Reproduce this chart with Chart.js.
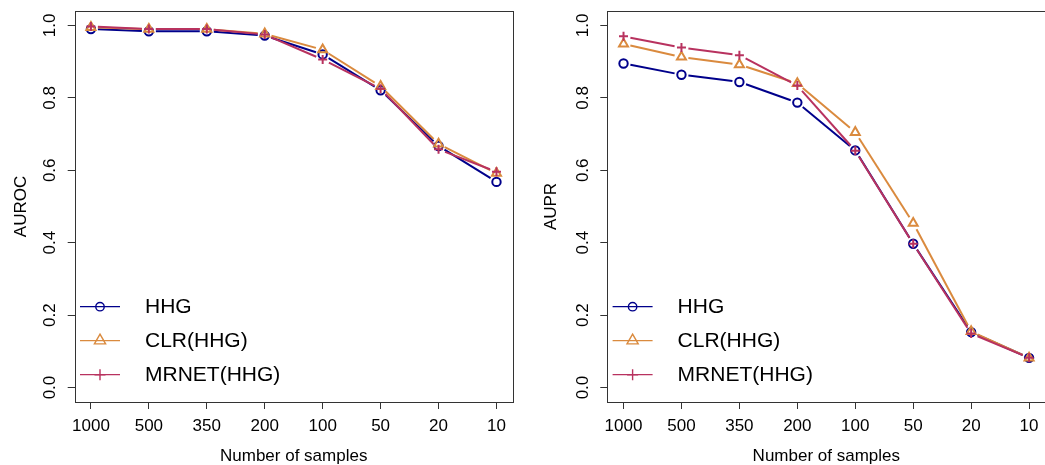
<!DOCTYPE html>
<html>
<head>
<meta charset="utf-8">
<script src="https://cdn.jsdelivr.net/npm/chart.js@4/dist/chart.umd.min.js"></script>
<style>
  html, body { margin: 0; padding: 0; background: #fff; }
  body { width: 1045px; height: 465px; position: relative; overflow: hidden; }
  .panel { position: absolute; top: 0; }
</style>
</head>
<body>
<div class="panel" style="left:0px"><canvas id="auroc" width="525" height="465"></canvas></div>
<div class="panel" style="left:530px"><canvas id="aupr" width="526" height="465"></canvas></div>
<script>
// Sample sizes along the x axis (plotted left to right, largest first)
const sampleSizes = ['1000', '500', '350', '200', '100', '50', '20', '10'];
const yTicks = [0, 0.2, 0.4, 0.6, 0.8, 1.0];
const seriesNames = ['HHG', 'CLR(HHG)', 'MRNET(HHG)'];

// Area under the ROC curve
const aurocHHG   = [0.990, 0.984, 0.984, 0.972, 0.920, 0.821, 0.667, 0.568];
const aurocCLR   = [0.995, 0.990, 0.990, 0.977, 0.933, 0.832, 0.673, 0.592];
const aurocMRNET = [0.997, 0.990, 0.990, 0.975, 0.906, 0.825, 0.658, 0.596];

// Area under the precision-recall curve
const auprHHG   = [0.895, 0.864, 0.844, 0.787, 0.655, 0.397, 0.153, 0.082];
const auprCLR   = [0.949, 0.913, 0.892, 0.840, 0.705, 0.454, 0.155, 0.082];
const auprMRNET = [0.970, 0.939, 0.918, 0.834, 0.654, 0.397, 0.149, 0.082];

const COLORS = ['#00008B', '#DA8A3E', '#B8325F'];
const SHAPES = ['circle', 'triangle', 'cross'];
const RADII  = [4.2, 5.2, 4.5];
const FONT = 'Liberation Sans, Arial, Helvetica, sans-serif';

// Lines are drawn with a small gap around each marker (like R's type = "b")
const gappedLines = {
  id: 'gappedLines',
  beforeDatasetDraw(chart, args) {
    const pts = args.meta.data;
    const ds = chart.data.datasets[args.index];
    const gap = 7;
    const ctx = chart.ctx;
    ctx.save();
    ctx.strokeStyle = ds.borderColor;
    ctx.lineWidth = 2;
    ctx.lineCap = 'butt';
    for (let i = 0; i < pts.length - 1; i++) {
      const a = pts[i], b = pts[i + 1];
      const dx = b.x - a.x, dy = b.y - a.y;
      const len = Math.hypot(dx, dy);
      if (len <= 2 * gap) continue;
      const ux = dx / len, uy = dy / len;
      ctx.beginPath();
      ctx.moveTo(a.x + ux * gap, a.y + uy * gap);
      ctx.lineTo(b.x - ux * gap, b.y - uy * gap);
      ctx.stroke();
    }
    ctx.restore();
  }
};

// Plot frame, rotated y tick labels and the inset legend
const decorations = {
  id: 'decorations',
  beforeDatasetsDraw(chart) {
    const { ctx, chartArea: ca } = chart;
    ctx.save();
    ctx.strokeStyle = '#333';
    ctx.lineWidth = 1;
    ctx.strokeRect(Math.round(ca.left) + 0.5, Math.round(ca.top) + 0.5,
                   Math.round(ca.right - ca.left), Math.round(ca.bottom - ca.top));
    // y tick labels, rotated to read upward
    const ys = chart.scales.y;
    ctx.fillStyle = '#000';
    ctx.font = '17px ' + FONT;
    ctx.textAlign = 'center';
    ctx.textBaseline = 'middle';
    yTicks.forEach(v => {
      const py = ys.getPixelForValue(v);
      ctx.save();
      ctx.translate(ca.left - 24, py);
      ctx.rotate(-Math.PI / 2);
      ctx.fillText(v.toFixed(1), 0, 0);
      ctx.restore();
    });
    ctx.restore();
  },
  afterDatasetsDraw(chart) {
    const { ctx, chartArea: ca } = chart;
    ctx.save();
    chart.data.datasets.forEach((ds, i) => {
      const y = 306.7 + 34 * i;
      const x0 = ca.left + 5.3, x1 = ca.left + 45.3, xm = (x0 + x1) / 2;
      ctx.strokeStyle = ds.borderColor;
      ctx.lineWidth = 1.2;
      ctx.beginPath();
      ctx.moveTo(x0, y); ctx.lineTo(x1, y);
      ctx.stroke();
      ctx.lineWidth = 1.4;
      ctx.beginPath();
      if (ds.pointStyle === 'circle') {
        ctx.arc(xm, y, 4.2, 0, Math.PI * 2);
      } else if (ds.pointStyle === 'triangle') {
        ctx.moveTo(xm, y - 6.5);
        ctx.lineTo(xm + 5.6, y + 3.2);
        ctx.lineTo(xm - 5.6, y + 3.2);
        ctx.closePath();
      } else {
        ctx.moveTo(xm - 5.5, y); ctx.lineTo(xm + 5.5, y);
        ctx.moveTo(xm, y - 5.5); ctx.lineTo(xm, y + 5.5);
      }
      ctx.stroke();
      ctx.fillStyle = '#000';
      ctx.font = '21px ' + FONT;
      ctx.textAlign = 'left';
      ctx.textBaseline = 'middle';
      ctx.fillText(ds.label, ca.left + 70.3, y + 1);
    });
    ctx.restore();
  }
};

function makeDatasets(values) {
  return values.map((vals, s) => ({
    label: seriesNames[s],
    data: vals.map((v, i) => ({ x: i, y: v })),
    borderColor: COLORS[s],
    backgroundColor: 'rgba(0,0,0,0)',
    pointStyle: SHAPES[s],
    pointRadius: RADII[s],
    pointBorderWidth: 2,
    pointBackgroundColor: 'rgba(0,0,0,0)',
    pointBorderColor: COLORS[s],
    showLine: false,
    order: 3 - s
  }));
}

function makeChart(id, yLabel, values, axisWidth, padRight) {
  return new Chart(document.getElementById(id), {
    type: 'line',
    data: { datasets: makeDatasets(values) },
    plugins: [gappedLines, decorations],
    options: {
      responsive: false,
      animation: false,
      devicePixelRatio: 1,
      layout: { padding: { top: 11, right: padRight, left: 0, bottom: 0 } },
      plugins: { legend: { display: false }, tooltip: { enabled: false } },
      scales: {
        x: {
          type: 'linear',
          min: -0.28, max: 7.28,
          afterBuildTicks: s => { s.ticks = sampleSizes.map((_, i) => ({ value: i })); },
          afterFit: s => { s.height = 63; },
          ticks: {
            callback: v => sampleSizes[v],
            autoSkip: false, maxRotation: 0, minRotation: 0,
            color: '#000', padding: 7,
            font: { family: FONT, size: 17 }
          },
          grid: { drawOnChartArea: false, drawTicks: true, tickLength: 7, color: '#333', lineWidth: 1 },
          border: { display: false },
          title: {
            display: true, text: 'Number of samples', color: '#000',
            font: { family: FONT, size: 17, lineHeight: 1 },
            padding: { top: 0, bottom: 0.5 }
          }
        },
        y: {
          type: 'linear',
          min: -0.04, max: 1.04,
          afterBuildTicks: s => { s.ticks = yTicks.map(v => ({ value: v })); },
          afterFit: s => { s.width = axisWidth; },
          ticks: { display: false },
          grid: { drawOnChartArea: false, drawTicks: true, tickLength: 7, color: '#333', lineWidth: 1 },
          border: { display: false },
          title: {
            display: true, text: yLabel, color: '#000',
            font: { family: FONT, size: 17, lineHeight: 1 },
            padding: { top: 13, bottom: 0 }
          }
        }
      }
    }
  });
}

makeChart('auroc', 'AUROC', [aurocHHG, aurocCLR, aurocMRNET], 74.7, 12.3);
// this panel's frame runs to the right edge of the page
makeChart('aupr', 'AUPR', [auprHHG, auprCLR, auprMRNET], 77.3, 10.7);
</script>
</body>
</html>
